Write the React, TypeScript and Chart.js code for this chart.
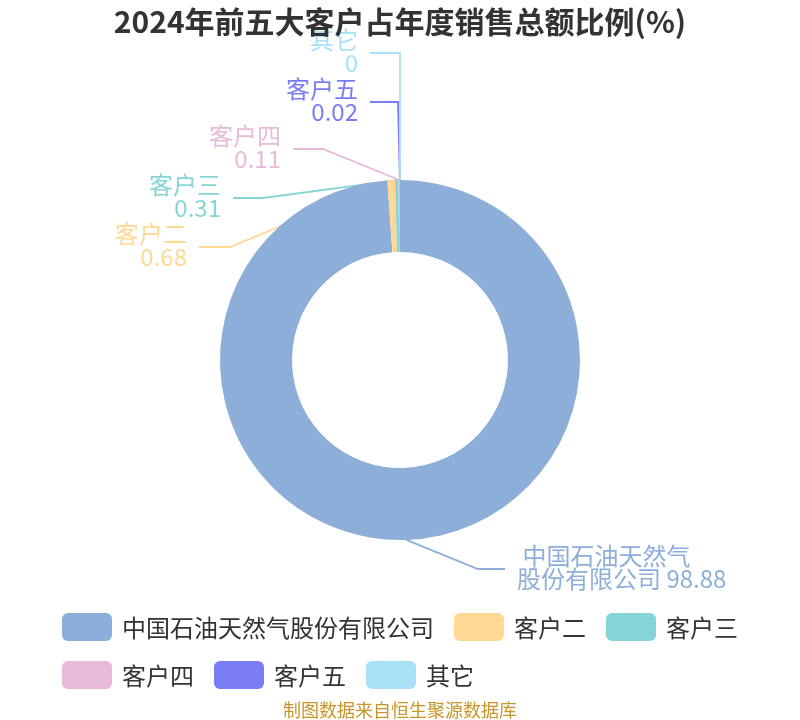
import React, { useEffect, useRef } from 'react';
import { Chart, registerables } from 'chart.js';

Chart.register(...registerables);

const TITLE = '2024年前五大客户占年度销售总额比例(%)';
const SOURCE = '制图数据来自恒生聚源数据库';
const categories = ['中国石油天然气股份有限公司', '客户二', '客户三', '客户四', '客户五', '其它'];
const values = [98.88, 0.68, 0.31, 0.11, 0.02, 0];
const colors = ['#8EAEDA', '#FFD994', '#86D5D6', '#E8B9D9', '#7A7CF4', '#A8E0F8'];

const FONT = '"Noto Sans CJK SC", "Noto Sans", sans-serif';

// label layout: elbow offset (dx, dy) from the doughnut centre and the x offset of the horizontal end
const LABEL_LAYOUT: [number, number, number][] = [
  [78, 209, 105],
  [-170, -113, -201],
  [-137, -162, -167],
  [-77, -211, -107],
  [-2, -258, -30],
  [0, -307, -30],
];

function labelLines(i: number): string[] {
  const name = categories[i];
  const v = String(values[i]);
  if (name.length > 8) {
    return [' ' + name.slice(0, 7), name.slice(7) + ' ' + v];
  }
  return [name, v];
}

const labelPlugin = {
  id: 'sliceLabels',
  beforeDatasetsDraw(chart: any) {
    const ctx = chart.ctx;
    const meta = chart.getDatasetMeta(0);
    ctx.save();
    meta.data.forEach((arc: any, i: number) => {
      const p = arc.getProps(['x', 'y', 'startAngle', 'endAngle', 'outerRadius'], true);
      const mid = (p.startAngle + p.endAngle) / 2;
      const sx = p.x + Math.cos(mid) * p.outerRadius;
      const sy = p.y + Math.sin(mid) * p.outerRadius;
      const [dx, dy, ex] = LABEL_LAYOUT[i];
      ctx.beginPath();
      ctx.strokeStyle = colors[i];
      ctx.lineWidth = 1.8;
      ctx.moveTo(sx, sy);
      ctx.lineTo(p.x + dx, p.y + dy);
      ctx.lineTo(p.x + ex, p.y + dy);
      ctx.stroke();
    });
    ctx.restore();
  },
  afterDraw(chart: any) {
    const ctx = chart.ctx;
    const meta = chart.getDatasetMeta(0);
    ctx.save();
    // slice labels
    ctx.font = `24px ${FONT}`;
    ctx.textBaseline = 'middle';
    meta.data.forEach((arc: any, i: number) => {
      const p = arc.getProps(['x', 'y'], true);
      const [dx, dy, ex] = LABEL_LAYOUT[i];
      const lines = labelLines(i);
      const right = ex > dx;
      ctx.fillStyle = colors[i];
      ctx.textAlign = right ? 'left' : 'right';
      const tx = p.x + ex + (right ? 12 : -12);
      const ly = p.y + dy;
      ctx.fillText(lines[0], tx, ly - 13);
      ctx.fillText(lines[1], tx, ly + 10);
    });

    // title
    ctx.font = `bold 30px ${FONT}`;
    ctx.fillStyle = '#333333';
    ctx.textAlign = 'center';
    ctx.fillText(TITLE, chart.width / 2, 22);

    // legend
    ctx.font = `24px ${FONT}`;
    ctx.textAlign = 'left';
    const startX = 62;
    const maxX = chart.width - 40;
    const boxW = 50;
    const boxH = 28;
    let x = startX;
    let y = 627;
    categories.forEach((name, i) => {
      const w = ctx.measureText(name).width;
      const itemW = boxW + 10 + w;
      if (x + itemW > maxX && x > startX) {
        x = startX;
        y += 48;
      }
      ctx.fillStyle = colors[i];
      ctx.beginPath();
      (ctx as any).roundRect(x, y - boxH / 2, boxW, boxH, 6);
      ctx.fill();
      ctx.fillStyle = '#333333';
      ctx.fillText(name, x + boxW + 10, y + 1);
      x += itemW + 20;
    });

    // source
    ctx.font = `18px ${FONT}`;
    ctx.fillStyle = '#C8952A';
    ctx.textAlign = 'center';
    ctx.fillText(SOURCE, chart.width / 2, 710);
    ctx.restore();
  },
};

export default function App() {
  const ref = useRef<HTMLCanvasElement>(null);
  useEffect(() => {
    if (!ref.current) return;
    const chart = new Chart(ref.current, {
      type: 'doughnut',
      data: {
        labels: categories,
        datasets: [
          {
            data: values,
            backgroundColor: colors,
            borderWidth: 0,
            hoverOffset: 0,
            offset: 0,
          },
        ],
      },
      options: {
        responsive: false,
        animation: false,
        events: [],
        cutout: '60%',
        layout: { padding: { top: 180, bottom: 180, left: 0, right: 0 } },
        plugins: {
          legend: { display: false },
          title: { display: false },
          tooltip: { enabled: false },
        },
      },
      plugins: [labelPlugin],
    });
    return () => chart.destroy();
  }, []);
  return (
    <div style={{ position: 'fixed', left: 0, top: 0, width: 800, height: 720, background: '#fff' }}>
      <canvas ref={ref} width={800} height={720} />
    </div>
  );
}
